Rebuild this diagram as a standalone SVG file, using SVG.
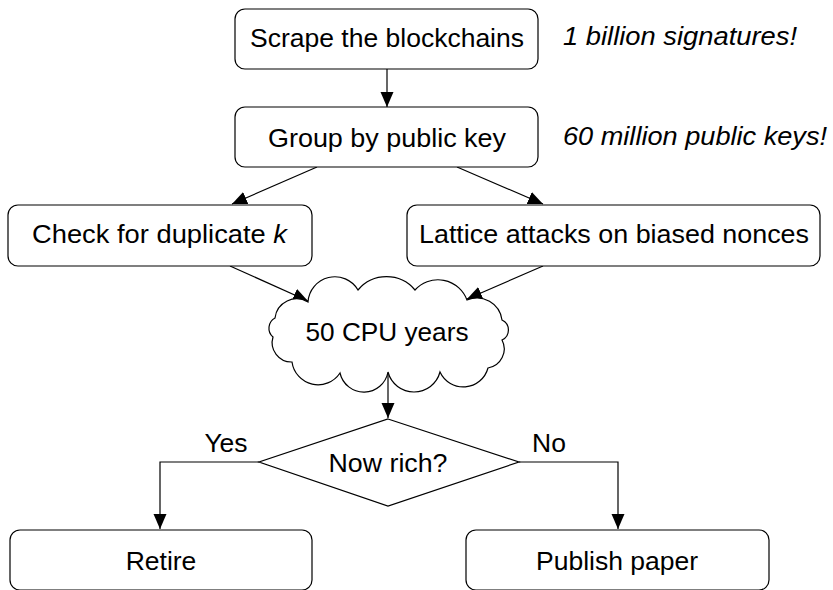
<svg xmlns="http://www.w3.org/2000/svg" width="833" height="590" viewBox="0 0 833 590">
<defs>
<style>
.box{fill:#fff;stroke:#000;stroke-width:1.2}
.t{font-family:"Liberation Sans",Arial,sans-serif;font-size:26.5px;fill:#000;text-anchor:middle}
.it{font-family:"Liberation Sans",Arial,sans-serif;font-size:26.5px;font-style:italic;fill:#000}
.c{fill:none;stroke:#000;stroke-width:1.2}
</style>
<marker id="ah" markerUnits="userSpaceOnUse" markerWidth="16" markerHeight="14" refX="15" refY="6.5" orient="auto">
<path d="M0,0 L15,6.5 L0,13 Z" fill="#000"/>
</marker>
</defs>
<g id="connectors">
<line class="c" x1="387" y1="69" x2="387" y2="107" marker-end="url(#ah)"/>
<line class="c" x1="317" y1="167" x2="232" y2="204" marker-end="url(#ah)"/>
<line class="c" x1="457" y1="167" x2="543" y2="204" marker-end="url(#ah)"/>
<line class="c" x1="230" y1="266" x2="308" y2="301" marker-end="url(#ah)"/>
<line class="c" x1="543" y1="266" x2="467" y2="299" marker-end="url(#ah)"/>
<line class="c" x1="388" y1="372" x2="388" y2="418" marker-end="url(#ah)"/>
<polyline class="c" points="259,462 160,462 160,529" marker-end="url(#ah)"/>
<polyline class="c" points="519,462 618,462 618,529" marker-end="url(#ah)"/>
<text class="t" x="226" y="452">Yes</text>
<text class="t" x="549" y="452">No</text>
</g>
<g id="scrape">
<rect class="box" x="235" y="9" width="303" height="60" rx="10"/>
<text class="t" x="387" y="47" textLength="274" lengthAdjust="spacingAndGlyphs">Scrape the blockchains</text>
</g>
<g id="note1">
<text class="it" x="563" y="45" textLength="234" lengthAdjust="spacingAndGlyphs">1 billion signatures!</text>
</g>
<g id="group">
<rect class="box" x="235" y="107" width="303" height="60" rx="10"/>
<text class="t" x="387" y="147" textLength="238" lengthAdjust="spacingAndGlyphs">Group by public key</text>
</g>
<g id="note2">
<text class="it" x="563" y="145" textLength="264" lengthAdjust="spacingAndGlyphs">60 million public keys!</text>
</g>
<g id="duplicate">
<rect class="box" x="8" y="205" width="304" height="61" rx="10"/>
<text class="t" x="32" y="243" style="text-anchor:start" textLength="255" lengthAdjust="spacingAndGlyphs">Check for duplicate <tspan font-style="italic">k</tspan></text>
</g>
<g id="lattice">
<rect class="box" x="407" y="205" width="413" height="61" rx="10"/>
<text class="t" x="614" y="243" textLength="390" lengthAdjust="spacingAndGlyphs">Lattice attacks on biased nonces</text>
</g>
<g id="cloud">
<path class="box" d="M308,302 A26.9,26.9 0 0 1 358,290 A37.2,37.2 0 0 1 415,290 A30.9,30.9 0 0 1 467,300 A25.3,25.3 0 0 1 502,320 A11,11 0 0 1 502,340 A19.3,19.3 0 0 1 488,368 A25.6,25.6 0 0 1 440,372 A26.9,26.9 0 0 1 388,372 A24.5,24.5 0 0 1 340,373 A26.3,26.3 0 0 1 292,362 A19.4,19.4 0 0 1 273,337 A11.6,11.6 0 0 1 275,318 A21.8,21.8 0 0 1 308,302 Z"/>
<text class="t" x="387" y="341" textLength="163" lengthAdjust="spacingAndGlyphs">50 CPU years</text>
</g>
<g id="decision">
<polygon class="box" points="388,419 519,462 388,506 259,462"/>
<text class="t" x="388" y="472" textLength="119" lengthAdjust="spacingAndGlyphs">Now rich?</text>
</g>
<g id="retire">
<rect class="box" x="10" y="530" width="302" height="60" rx="10"/>
<text class="t" x="161" y="570">Retire</text>
</g>
<g id="publish">
<rect class="box" x="466" y="530" width="303" height="60" rx="10"/>
<text class="t" x="617" y="570" textLength="162" lengthAdjust="spacingAndGlyphs">Publish paper</text>
</g>
</svg>
